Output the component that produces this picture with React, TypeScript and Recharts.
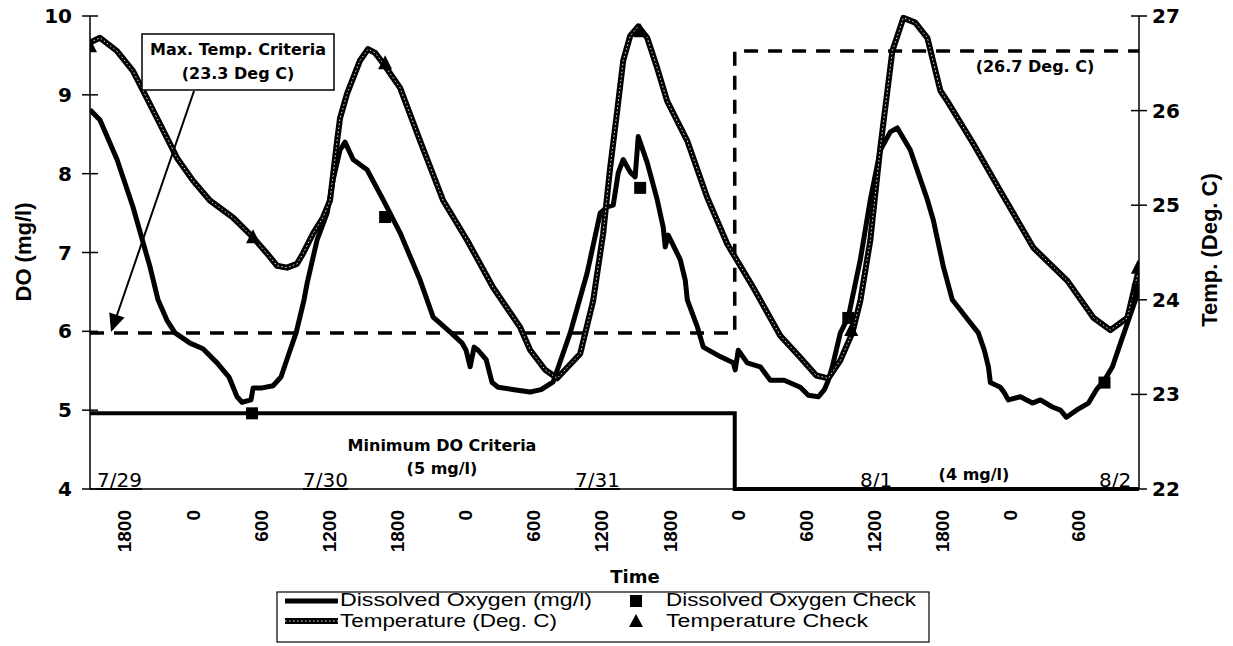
import React from 'react';
import { ComposedChart, Line, Scatter, XAxis, YAxis } from 'recharts';

// Time axis: hours since 7/29 00:00
const doReadings: [number, number][] = [
  [14.92, 8.81], [15.8, 8.68], [17.3, 8.18], [18.7, 7.58], [20.2, 6.82], [20.91, 6.4], [21.7, 6.14],
  [22.41, 5.98], [23.73, 5.85], [24.87, 5.78], [26.11, 5.6], [27.16, 5.42], [27.87, 5.17], [28.31, 5.1],
  [29.1, 5.13], [29.28, 5.28], [29.98, 5.28], [31.04, 5.31], [31.74, 5.42], [32.54, 5.76], [33.07, 5.98],
  [33.77, 6.4], [34.04, 6.61], [34.92, 7.16], [35.8, 7.5], [36.33, 7.92], [36.94, 8.3], [37.38, 8.4],
  [38.09, 8.18], [39.32, 8.05], [40.73, 7.67], [42.23, 7.25], [43.99, 6.65], [45.14, 6.18], [46.72, 5.98],
  [47.69, 5.85], [48.04, 5.76], [48.4, 5.55], [48.75, 5.8], [49.1, 5.76], [49.81, 5.64], [50.33, 5.35],
  [50.86, 5.29], [52.27, 5.26], [53.68, 5.23], [54.65, 5.26], [55.71, 5.36], [57.21, 5.98], [58.7, 6.74],
  [59.85, 7.5], [60.47, 7.58], [61.0, 7.6], [61.44, 8.01], [61.88, 8.18], [62.49, 8.02], [62.93, 7.96],
  [63.2, 8.47], [63.99, 8.14], [64.87, 7.67], [65.4, 7.32], [65.58, 7.07], [65.84, 7.22], [66.9, 6.91],
  [67.34, 6.65], [67.52, 6.4], [68.4, 6.06], [68.93, 5.8], [70.42, 5.68], [71.57, 5.6], [71.74, 5.51],
  [72.01, 5.76], [72.8, 5.6], [73.95, 5.55], [74.83, 5.38], [76.06, 5.38], [77.47, 5.29], [78.18, 5.19],
  [79.06, 5.17], [79.59, 5.26], [79.94, 5.38], [80.29, 5.55], [81.0, 5.98], [81.7, 6.18], [82.76, 6.91],
  [83.64, 7.67], [84.52, 8.3], [85.4, 8.53], [86.02, 8.58], [87.16, 8.3], [88.66, 7.67], [89.19, 7.41],
  [90.07, 6.82], [90.86, 6.4], [91.57, 6.27], [92.27, 6.14], [93.15, 5.98], [93.68, 5.76], [94.04, 5.55],
  [94.21, 5.35], [95.09, 5.29], [95.44, 5.22], [95.8, 5.13], [96.86, 5.17], [97.91, 5.09], [98.62, 5.13],
  [99.67, 5.04], [100.38, 5.0], [100.91, 4.91], [101.79, 5.0], [102.85, 5.09], [103.55, 5.26], [104.26, 5.38],
  [104.96, 5.55], [105.67, 5.85], [106.37, 6.14], [107.3, 6.53],
];

const tempReadings: [number, number][] = [
  [14.92, 26.72], [15.8, 26.77], [17.3, 26.63], [18.7, 26.42], [19.59, 26.21], [21.08, 25.86], [22.58, 25.5],
  [23.99, 25.26], [25.48, 25.05], [27.51, 24.87], [29.28, 24.66], [30.51, 24.49], [31.39, 24.36], [32.27, 24.34],
  [33.15, 24.38], [33.68, 24.49], [34.56, 24.7], [35.44, 24.87], [36.06, 25.05], [36.68, 25.68], [36.94, 25.92],
  [37.56, 26.18], [38.7, 26.53], [39.41, 26.65], [40.03, 26.61], [40.73, 26.5], [42.23, 26.24], [43.99, 25.68],
  [46.02, 25.05], [48.13, 24.63], [50.42, 24.13], [52.8, 23.71], [53.68, 23.47], [55.0, 23.26], [56.06, 23.17],
  [58.09, 23.43], [59.23, 23.99], [60.11, 24.7], [60.73, 25.4], [61.35, 26.0], [61.88, 26.53], [62.49, 26.79],
  [63.2, 26.89], [63.99, 26.77], [64.87, 26.45], [65.75, 26.1], [67.52, 25.68], [69.28, 25.08], [71.04, 24.59],
  [73.33, 24.13], [75.71, 23.62], [77.47, 23.39], [78.88, 23.2], [79.94, 23.17], [81.0, 23.36], [82.05, 23.65],
  [82.76, 23.99], [83.64, 24.63], [84.52, 25.61], [85.58, 26.63], [86.55, 26.98], [87.6, 26.93], [88.66, 26.77],
  [89.81, 26.21], [90.42, 26.1], [92.71, 25.65], [95.09, 25.15], [98.0, 24.55], [101.0, 24.2], [103.29, 23.81],
  [104.78, 23.68], [106.28, 23.81], [107.3, 24.33],
];

const doCheckTimes = [29.19, 40.91, 63.37, 81.7, 104.26, 107.2];
const doCheckValues = [4.96, 7.45, 7.82, 6.17, 5.35, 6.53];
const tempCheckTimes = [14.92, 29.28, 40.91, 63.37, 81.96, 107.2];
const tempCheckValues = [26.68, 24.66, 26.5, 26.84, 23.68, 24.34];

const maxTempCriteria: [number, number][] = [[14.92, 23.65], [71.7, 23.65], [71.7, 26.63], [107.3, 26.63]];
const minDoCriteria: [number, number][] = [[14.92, 4.96], [71.7, 4.96], [71.7, 4.0], [107.3, 4.0]];

const xTicks = [18, 24, 30, 36, 42, 48, 54, 60, 66, 72, 78, 84, 90, 96, 102];
const xTickLabels = ['1800', '0', '600', '1200', '1800', '0', '600', '1200', '1800', '0', '600', '1200', '1800', '0', '600'];
const doTicks = [4, 5, 6, 7, 8, 9, 10];
const tempTicks = [22, 23, 24, 25, 26, 27];
const dateLabels = ['7/29', '7/30', '7/31', '8/1', '8/2'];

const toRows = (pairs: [number, number][]) => pairs.map(([t, v]) => ({ t, v }));
const doData = toRows(doReadings);
const tempData = toRows(tempReadings);
const doCheckData = doCheckTimes.map((t, i) => ({ t, v: doCheckValues[i] }));
const tempCheckData = tempCheckTimes.map((t, i) => ({ t, v: tempCheckValues[i] }));
const maxTempData = toRows(maxTempCriteria);
const minDoData = toRows(minDoCriteria);

const SANS = 'DejaVu Sans, sans-serif';
const ARIAL = 'Liberation Sans, Arial, sans-serif';

const SquareShape = (p: any) => <rect x={p.cx - 6} y={p.cy - 6} width={12} height={12} fill="#000" />;
const TriangleShape = (p: any) => (
  <polygon points={`${p.cx},${p.cy - 8} ${p.cx - 7},${p.cy + 6} ${p.cx + 7},${p.cy + 6}`} fill="#000" />
);

const XTick = (p: any) => {
  const idx = xTicks.indexOf(p.payload.value);
  const label = idx >= 0 ? xTickLabels[idx] : '';
  return (
    <text x={p.x} y={p.y} transform={`rotate(-90 ${p.x} ${p.y})`} textAnchor="end" dominantBaseline="central"
      fontFamily={ARIAL} fontWeight="bold" fontSize={19} fill="#000">{label}</text>
  );
};

const LeftTick = (p: any) => (
  <g>
    <line x1={p.x + 10} x2={p.x + 26} y1={p.y} y2={p.y} stroke="#000" strokeWidth={1.5} />
    <text x={p.x} y={p.y} textAnchor="end" dominantBaseline="central" fontFamily={SANS} fontWeight="bold" fontSize={20} fill="#000">{p.payload.value}</text>
  </g>
);

const RightTick = (p: any) => (
  <g>
    <line x1={p.x - 21} x2={p.x - 5} y1={p.y} y2={p.y} stroke="#000" strokeWidth={1.5} />
    <text x={p.x} y={p.y} textAnchor="start" dominantBaseline="central" fontFamily={SANS} fontWeight="bold" fontSize={20} fill="#000">{p.payload.value}</text>
  </g>
);

const dateX = [89, 295, 567, 852, 1091];

export default function App() {
  return (
    <div style={{ position: 'relative', width: 1225, height: 646, marginTop: -8, background: '#fff' }}>
      <ComposedChart width={1225} height={646} margin={{ top: 16, right: 34, bottom: 97, left: 22 }}>
        <XAxis type="number" dataKey="t" domain={[14.92, 107.3]} ticks={xTicks} allowDataOverflow
          axisLine={{ stroke: '#000', strokeWidth: 1.5 }} tickLine={false} tickSize={6} tickMargin={15}
          height={60} tick={<XTick />} interval={0} />
        <YAxis yAxisId="do" orientation="left" domain={[4, 10]} ticks={doTicks} width={60}
          axisLine={{ stroke: '#000', strokeWidth: 1.5 }} tickLine={false} tickSize={8} tickMargin={10}
          tick={<LeftTick />} interval={0} />
        <YAxis yAxisId="temp" orientation="right" domain={[22, 27]} ticks={tempTicks} width={60}
          axisLine={{ stroke: '#000', strokeWidth: 1.5 }} tickLine={false} tickSize={8} tickMargin={5}
          tick={<RightTick />} interval={0} />
        <Line yAxisId="temp" data={maxTempData} dataKey="v" stroke="#000" strokeWidth={3.5}
          strokeDasharray="14 10" dot={false} isAnimationActive={false} type="linear" />
        <Line yAxisId="do" data={minDoData} dataKey="v" stroke="#000" strokeWidth={4}
          dot={false} isAnimationActive={false} type="linear" />
        <Line yAxisId="do" data={doData} dataKey="v" stroke="#000" strokeWidth={5}
          dot={false} isAnimationActive={false} type="linear" strokeLinejoin="round" />
        <Line yAxisId="temp" data={tempData} dataKey="v" stroke="#000" strokeWidth={6}
          dot={false} isAnimationActive={false} type="linear" strokeLinejoin="round" />
        <Line yAxisId="temp" data={tempData} dataKey="v" stroke="#e8e8e8" strokeWidth={1}
          strokeDasharray="1.5 2.5" dot={false} isAnimationActive={false} type="linear" />
        <Scatter yAxisId="do" data={doCheckData} dataKey="v" shape={<SquareShape />} isAnimationActive={false} />
        <Scatter yAxisId="temp" data={tempCheckData} dataKey="v" shape={<TriangleShape />} isAnimationActive={false} />
      </ComposedChart>
      <svg width={1225} height={646} style={{ position: 'absolute', left: 0, top: 0, pointerEvents: 'none' }}>
        <g transform="translate(0,8)">
          <text x={15} y={244} transform="rotate(-90 15 244)" textAnchor="middle" dominantBaseline="central"
            fontFamily={ARIAL} fontWeight="bold" fontSize={22}>DO (mg/l)</text>
          <text x={1201} y={242} transform="rotate(-90 1201 242)" textAnchor="middle" dominantBaseline="central"
            fontFamily={ARIAL} fontWeight="bold" fontSize={22}>Temp. (Deg. C)</text>
          <text x={627} y={575} textAnchor="middle" fontFamily={SANS} fontWeight="bold" fontSize={18}>Time</text>

          <rect x={134} y={26} width={192} height={56} fill="#fff" stroke="#000" strokeWidth={1.5} />
          <text x={230} y={47} textAnchor="middle" fontFamily={SANS} fontWeight="bold" fontSize={16}>Max. Temp. Criteria</text>
          <text x={230} y={71} textAnchor="middle" fontFamily={SANS} fontWeight="bold" fontSize={16}>(23.3 Deg C)</text>
          <line x1={186} y1={83} x2={108} y2={310} stroke="#000" strokeWidth={2} />
          <polygon points="103,324 116.5,309.6 101.3,304.4" fill="#000" />

          <text x={1027} y={64} textAnchor="middle" fontFamily={SANS} fontWeight="bold" fontSize={16}>(26.7 Deg. C)</text>
          <text x={434} y={443} textAnchor="middle" fontFamily={SANS} fontWeight="bold" fontSize={16}>Minimum DO Criteria</text>
          <text x={434} y={466} textAnchor="middle" fontFamily={SANS} fontWeight="bold" fontSize={16}>(5 mg/l)</text>
          <text x={966} y={472} textAnchor="middle" fontFamily={SANS} fontWeight="bold" fontSize={16}>(4 mg/l)</text>

          {dateLabels.map((d, i) => (
            <text key={d} x={dateX[i]} y={479} fontFamily={SANS} fontSize={20} textDecoration="underline">{d}</text>
          ))}

          <rect x={269} y={584} width={652} height={50} fill="#fff" stroke="#000" strokeWidth={1.2} />
          <line x1={277} x2={330} y1={593} y2={593} stroke="#000" strokeWidth={5} />
          <line x1={277} x2={330} y1={613} y2={613} stroke="#000" strokeWidth={6} />
          <line x1={277} x2={330} y1={613} y2={613} stroke="#e8e8e8" strokeWidth={1} strokeDasharray="1.5 2.5" />
          <text x={332} y={598} fontFamily={ARIAL} fontSize={18} textLength={252} lengthAdjust="spacingAndGlyphs">Dissolved Oxygen (mg/l)</text>
          <text x={332} y={619} fontFamily={ARIAL} fontSize={18} textLength={217} lengthAdjust="spacingAndGlyphs">Temperature (Deg. C)</text>
          <rect x={622} y={587} width={12} height={12} fill="#000" />
          <polygon points="628,606 621,619 635,619" fill="#000" />
          <text x={658} y={598} fontFamily={ARIAL} fontSize={18} textLength={250} lengthAdjust="spacingAndGlyphs">Dissolved Oxygen Check</text>
          <text x={658} y={619} fontFamily={ARIAL} fontSize={18} textLength={202} lengthAdjust="spacingAndGlyphs">Temperature Check</text>
        </g>
      </svg>
    </div>
  );
}
